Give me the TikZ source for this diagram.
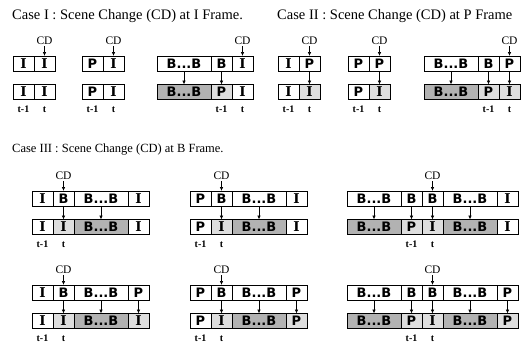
\documentclass[tikz,border=0pt]{standalone}
\usepackage{fontspec}
\setmainfont{Liberation Serif}
\setsansfont{DejaVu Sans}
\newfontfamily\slabfont{DejaVu Serif}
\usetikzlibrary{arrows.meta,positioning}
\definecolor{DarkStipple}{gray}{0.70}
\definecolor{LightStipple}{gray}{0.87}

\begin{document}
\begin{tikzpicture}[
  x=1pt, y=-1pt,
  cell/.style={draw=black, line width=0.9pt, outer sep=0pt, inner sep=0pt,
               minimum width=21pt, minimum height=15pt,
               font=\sffamily\bfseries\fontsize{13}{13}\selectfont},
  icell/.style={cell, font=\slabfont\bfseries\fontsize{13.5}{13.5}\selectfont},
  wide/.style={cell, minimum width=54pt},
  darkfill/.style={fill=DarkStipple},
  lightfill/.style={fill=LightStipple},
  heading/.style={anchor=west, inner sep=0pt, font=\fontsize{14.5}{14.5}\selectfont},
  cdlabel/.style={inner sep=1pt, font=\fontsize{11.5}{11.5}\selectfont},
  timelabel/.style={inner sep=0pt, text height=7pt, text depth=0pt,
                    font=\bfseries\fontsize{10}{10}\selectfont},
  cdarrow/.style={-{Latex[length=4pt,width=3.5pt]}, line width=0.7pt},
  copyarrow/.style={-{Latex[length=4pt,width=3.5pt]}, line width=0.7pt}
]
\useasboundingbox (0,0) rectangle (530,346);

% Case I: scene change at an I frame.
\node[heading] (titleA) at (12,16) {Case I : Scene Change (CD) at I Frame.};

\node[icell, anchor=north west] (a1u1) at (13,56) {I};
\node[icell, right=0pt of a1u1] (a1u2) {I};
\node[icell, below=13.5pt of a1u1] (a1l1) {I};
\node[icell, right=0pt of a1l1] (a1l2) {I};

\node[cell, anchor=north west] (a2u1) at (82,56) {P};
\node[icell, right=0pt of a2u1] (a2u2) {I};
\node[cell, below=13.5pt of a2u1] (a2l1) {P};
\node[icell, right=0pt of a2l1] (a2l2) {I};

\node[wide, anchor=north west] (a3u1) at (157,56) {B...B};
\node[cell, right=0pt of a3u1] (a3u2) {B};
\node[icell, right=0pt of a3u2] (a3u3) {I};
\node[wide, darkfill, below=13.5pt of a3u1] (a3l1) {B...B};
\node[cell, lightfill, right=0pt of a3l1] (a3l2) {P};
\node[icell, right=0pt of a3l2] (a3l3) {I};

% Case II: scene change at a P frame.
\node[heading] (titleB) at (277,16) {Case II : Scene Change (CD) at P Frame};

\node[icell, anchor=north west] (b1u1) at (278,56) {I};
\node[cell, right=0pt of b1u1] (b1u2) {P};
\node[icell, below=13.5pt of b1u1] (b1l1) {I};
\node[icell, lightfill, right=0pt of b1l1] (b1l2) {I};

\node[cell, anchor=north west] (b2u1) at (348,56) {P};
\node[cell, right=0pt of b2u1] (b2u2) {P};
\node[cell, below=13.5pt of b2u1] (b2l1) {P};
\node[icell, lightfill, right=0pt of b2l1] (b2l2) {I};

\node[wide, anchor=north west] (b3u1) at (424,56) {B...B};
\node[cell, right=0pt of b3u1] (b3u2) {B};
\node[cell, right=0pt of b3u2] (b3u3) {P};
\node[wide, darkfill, below=13.5pt of b3u1] (b3l1) {B...B};
\node[cell, lightfill, right=0pt of b3l1] (b3l2) {P};
\node[icell, lightfill, right=0pt of b3l2] (b3l3) {I};

% Case III: scene change at a B frame.
\node[heading, font=\fontsize{12.5}{12.5}\selectfont] (titleC) at (12,150)
  {Case III : Scene Change (CD) at B Frame.};

\node[icell, anchor=north west] (c1u1) at (32,191) {I};
\node[cell, right=0pt of c1u1] (c1u2) {B};
\node[wide, right=0pt of c1u2] (c1u3) {B...B};
\node[icell, right=0pt of c1u3] (c1u4) {I};
\node[icell, below=13.5pt of c1u1] (c1l1) {I};
\node[icell, lightfill, right=0pt of c1l1] (c1l2) {I};
\node[wide, darkfill, right=0pt of c1l2] (c1l3) {B...B};
\node[icell, right=0pt of c1l3] (c1l4) {I};

\node[cell, anchor=north west] (c2u1) at (190,191) {P};
\node[cell, right=0pt of c2u1] (c2u2) {B};
\node[wide, right=0pt of c2u2] (c2u3) {B...B};
\node[icell, right=0pt of c2u3] (c2u4) {I};
\node[cell, below=13.5pt of c2u1] (c2l1) {P};
\node[icell, lightfill, right=0pt of c2l1] (c2l2) {I};
\node[wide, darkfill, right=0pt of c2l2] (c2l3) {B...B};
\node[icell, right=0pt of c2l3] (c2l4) {I};

\node[wide, anchor=north west] (c3u1) at (347,191) {B...B};
\node[cell, right=0pt of c3u1] (c3u2) {B};
\node[cell, right=0pt of c3u2] (c3u3) {B};
\node[wide, right=0pt of c3u3] (c3u4) {B...B};
\node[icell, right=0pt of c3u4] (c3u5) {I};
\node[wide, darkfill, below=13.5pt of c3u1] (c3l1) {B...B};
\node[cell, lightfill, right=0pt of c3l1] (c3l2) {P};
\node[icell, lightfill, right=0pt of c3l2] (c3l3) {I};
\node[wide, darkfill, right=0pt of c3l3] (c3l4) {B...B};
\node[icell, right=0pt of c3l4] (c3l5) {I};

\node[icell, anchor=north west] (d1u1) at (32,285) {I};
\node[cell, right=0pt of d1u1] (d1u2) {B};
\node[wide, right=0pt of d1u2] (d1u3) {B...B};
\node[cell, right=0pt of d1u3] (d1u4) {P};
\node[icell, below=13.5pt of d1u1] (d1l1) {I};
\node[icell, lightfill, right=0pt of d1l1] (d1l2) {I};
\node[wide, darkfill, right=0pt of d1l2] (d1l3) {B...B};
\node[icell, lightfill, right=0pt of d1l3] (d1l4) {I};

\node[cell, anchor=north west] (d2u1) at (190,285) {P};
\node[cell, right=0pt of d2u1] (d2u2) {B};
\node[wide, right=0pt of d2u2] (d2u3) {B...B};
\node[cell, right=0pt of d2u3] (d2u4) {P};
\node[cell, below=13.5pt of d2u1] (d2l1) {P};
\node[icell, lightfill, right=0pt of d2l1] (d2l2) {I};
\node[wide, darkfill, right=0pt of d2l2] (d2l3) {B...B};
\node[cell, lightfill, right=0pt of d2l3] (d2l4) {P};

\node[wide, anchor=north west] (d3u1) at (347,285) {B...B};
\node[cell, right=0pt of d3u1] (d3u2) {B};
\node[cell, right=0pt of d3u2] (d3u3) {B};
\node[wide, right=0pt of d3u3] (d3u4) {B...B};
\node[cell, right=0pt of d3u4] (d3u5) {P};
\node[wide, darkfill, below=13.5pt of d3u1] (d3l1) {B...B};
\node[cell, lightfill, right=0pt of d3l1] (d3l2) {P};
\node[icell, lightfill, right=0pt of d3l2] (d3l3) {I};
\node[wide, darkfill, right=0pt of d3l3] (d3l4) {B...B};
\node[cell, lightfill, right=0pt of d3l4] (d3l5) {P};

% Scene-change markers.
\node[cdlabel, above=10pt of a1u2] (a1cd) {CD};
\node[cdlabel, above=10pt of a2u2] (a2cd) {CD};
\node[cdlabel, above=10pt of a3u3] (a3cd) {CD};
\node[cdlabel, above=10pt of b1u2] (b1cd) {CD};
\node[cdlabel, above=10pt of b2u2] (b2cd) {CD};
\node[cdlabel, above=10pt of b3u3] (b3cd) {CD};
\node[cdlabel, above=10pt of c1u2] (c1cd) {CD};
\node[cdlabel, above=10pt of c2u2] (c2cd) {CD};
\node[cdlabel, above=10pt of c3u3] (c3cd) {CD};
\node[cdlabel, above=10pt of d1u2] (d1cd) {CD};
\node[cdlabel, above=10pt of d2u2] (d2cd) {CD};
\node[cdlabel, above=10pt of d3u3] (d3cd) {CD};
\draw[cdarrow] (a1cd) -- (a1u2);
\draw[cdarrow] (a2cd) -- (a2u2);
\draw[cdarrow] (a3cd) -- (a3u3);
\draw[cdarrow] (b1cd) -- (b1u2);
\draw[cdarrow] (b2cd) -- (b2u2);
\draw[cdarrow] (b3cd) -- (b3u3);
\draw[cdarrow] (c1cd) -- (c1u2);
\draw[cdarrow] (c2cd) -- (c2u2);
\draw[cdarrow] (c3cd) -- (c3u3);
\draw[cdarrow] (d1cd) -- (d1u2);
\draw[cdarrow] (d2cd) -- (d2u2);
\draw[cdarrow] (d3cd) -- (d3u3);

% Frames re-coded after the change.
\draw[copyarrow] (a3u1) -- (a3l1);  \draw[copyarrow] (a3u2) -- (a3l2);
\draw[copyarrow] (b1u2) -- (b1l2);
\draw[copyarrow] (b2u2) -- (b2l2);
\draw[copyarrow] (b3u1) -- (b3l1);  \draw[copyarrow] (b3u2) -- (b3l2);
\draw[copyarrow] (b3u3) -- (b3l3);
\draw[copyarrow] (c1u2) -- (c1l2);  \draw[copyarrow] (c1u3) -- (c1l3);
\draw[copyarrow] (c2u2) -- (c2l2);  \draw[copyarrow] (c2u3) -- (c2l3);
\draw[copyarrow] (c3u1) -- (c3l1);  \draw[copyarrow] (c3u2) -- (c3l2);
\draw[copyarrow] (c3u3) -- (c3l3);  \draw[copyarrow] (c3u4) -- (c3l4);
\draw[copyarrow] (d1u2) -- (d1l2);  \draw[copyarrow] (d1u3) -- (d1l3);
\draw[copyarrow] (d1u4) -- (d1l4);
\draw[copyarrow] (d2u2) -- (d2l2);  \draw[copyarrow] (d2u3) -- (d2l3);
\draw[copyarrow] (d2u4) -- (d2l4);
\draw[copyarrow] (d3u1) -- (d3l1);  \draw[copyarrow] (d3u2) -- (d3l2);
\draw[copyarrow] (d3u3) -- (d3l3);  \draw[copyarrow] (d3u4) -- (d3l4);
\draw[copyarrow] (d3u5) -- (d3l5);

% Time stamps under the output rows.
\node[timelabel, below=6pt of a1l1] (a1tp) {t-1};
\node[timelabel, below=6pt of a1l2] (a1tn) {t};
\node[timelabel, below=6pt of a2l1] (a2tp) {t-1};
\node[timelabel, below=6pt of a2l2] (a2tn) {t};
\node[timelabel, below=6pt of a3l2] (a3tp) {t-1};
\node[timelabel, below=6pt of a3l3] (a3tn) {t};
\node[timelabel, below=6pt of b1l1] (b1tp) {t-1};
\node[timelabel, below=6pt of b1l2] (b1tn) {t};
\node[timelabel, below=6pt of b2l1] (b2tp) {t-1};
\node[timelabel, below=6pt of b2l2] (b2tn) {t};
\node[timelabel, below=6pt of b3l2] (b3tp) {t-1};
\node[timelabel, below=6pt of b3l3] (b3tn) {t};
\node[timelabel, below=6pt of c1l1] (c1tp) {t-1};
\node[timelabel, below=6pt of c1l2] (c1tn) {t};
\node[timelabel, below=6pt of c2l1] (c2tp) {t-1};
\node[timelabel, below=6pt of c2l2] (c2tn) {t};
\node[timelabel, below=6pt of c3l2] (c3tp) {t-1};
\node[timelabel, below=6pt of c3l3] (c3tn) {t};
\node[timelabel, below=6pt of d1l1] (d1tp) {t-1};
\node[timelabel, below=6pt of d1l2] (d1tn) {t};
\node[timelabel, below=6pt of d2l1] (d2tp) {t-1};
\node[timelabel, below=6pt of d2l2] (d2tn) {t};
\node[timelabel, below=6pt of d3l2] (d3tp) {t-1};
\node[timelabel, below=6pt of d3l3] (d3tn) {t};

\end{tikzpicture}
\end{document}
